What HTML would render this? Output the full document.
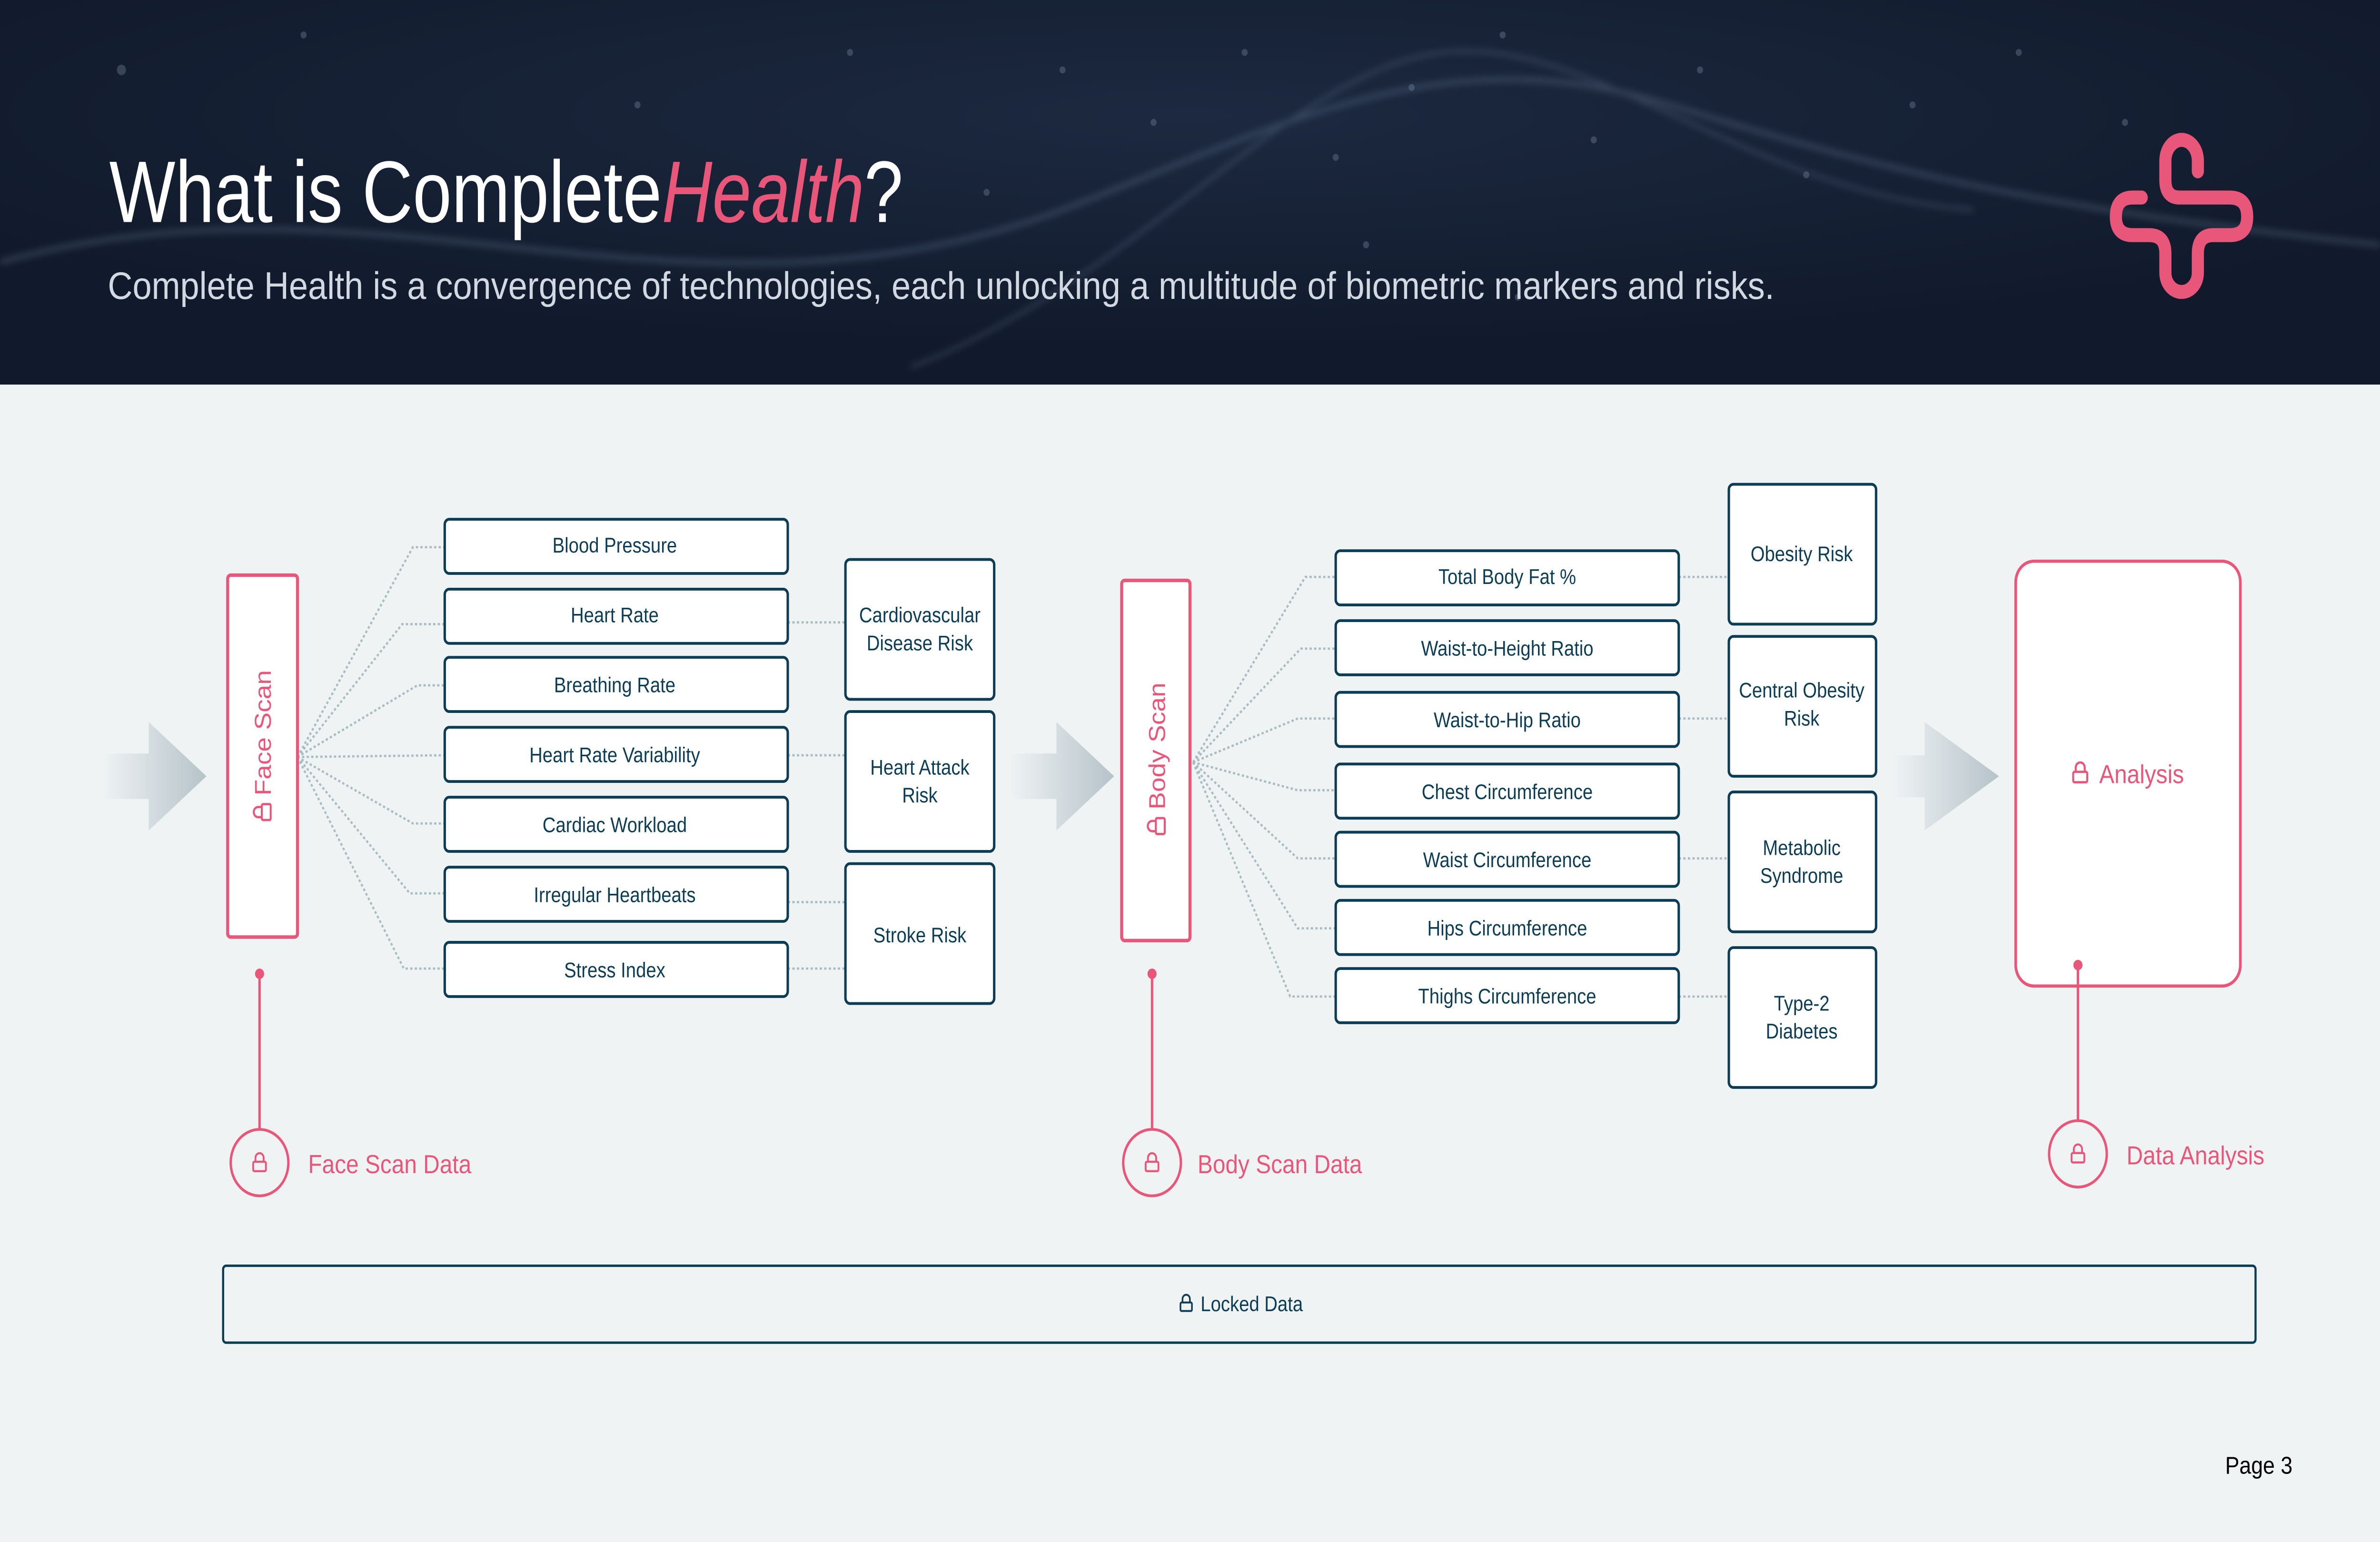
<!DOCTYPE html>
<html><head><meta charset="utf-8"><style>
html,body{margin:0;padding:0;background:#eff3f4;width:100%;height:100%;overflow:hidden;}
svg{display:block;width:100vw;height:100vh;}
</style></head><body>
<svg viewBox="0 0 1568 882" preserveAspectRatio="none" xmlns="http://www.w3.org/2000/svg" font-family="'Liberation Sans', sans-serif">
<defs>
<linearGradient id="ag" x1="0" x2="1" y1="0" y2="0">
<stop offset="0" stop-color="#eff3f4"/><stop offset="1" stop-color="#b6c3ca"/></linearGradient>
<radialGradient id="hg" cx="0.5" cy="0.3" r="0.6"><stop offset="0" stop-color="#1c2940"/><stop offset="1" stop-color="#111a2c"/></radialGradient>
<filter id="bl"><feGaussianBlur stdDeviation="2"/></filter>
<symbol id="lock" viewBox="0 0 10 12"><path d="M2.3,6 V3.8 A2.7,2.7 0 0 1 7.7,3.8 V6" fill="none" stroke="currentColor" stroke-width="1.2"/><rect x="0.8" y="6" width="8.4" height="5.4" rx="0.8" fill="none" stroke="currentColor" stroke-width="1.2"/></symbol>
</defs>
<rect x="0" y="0" width="1568" height="220" fill="url(#hg)"/>
<g filter="url(#bl)" opacity="0.35" fill="none" stroke="#6c7f99">
<path d="M0,150 C250,90 450,200 700,120 C850,70 950,20 1100,60 C1250,100 1350,120 1568,140" stroke-width="3"/>
<path d="M600,210 C750,160 850,40 950,30 C1050,20 1150,110 1300,120" stroke-width="2"/>
</g>
<g fill="#7d8ea6" opacity="0.35">
<circle cx="700" cy="40" r="2"/><circle cx="760" cy="70" r="2"/><circle cx="820" cy="30" r="2"/><circle cx="880" cy="90" r="2"/><circle cx="930" cy="50" r="2"/><circle cx="990" cy="20" r="2"/><circle cx="1050" cy="80" r="2"/><circle cx="1120" cy="40" r="2"/><circle cx="1190" cy="100" r="2"/><circle cx="1260" cy="60" r="2"/><circle cx="1330" cy="30" r="2"/><circle cx="1400" cy="70" r="2"/><circle cx="650" cy="110" r="2"/><circle cx="900" cy="140" r="2"/><circle cx="1000" cy="170" r="2"/><circle cx="80" cy="40" r="3"/><circle cx="200" cy="20" r="2"/><circle cx="420" cy="60" r="2"/><circle cx="560" cy="30" r="2"/>
</g>
<text x="72" y="127" font-size="50" fill="#ffffff" textLength="523" lengthAdjust="spacingAndGlyphs">What is Complete<tspan fill="#e8577a" font-style="italic">Health</tspan>?</text>
<text x="71" y="171" font-size="22" fill="#d3d9e2" textLength="1098" lengthAdjust="spacingAndGlyphs">Complete Health is a convergence of technologies, each unlocking a multitude of biometric markers and risks.</text>
<path d="M1448,98 L1448,92 A10.7,12 0 0 0 1426.6,92 L1426.6,103 Q1426.6,113 1436,113 L1469,113 Q1480.5,113 1480.5,124 Q1480.5,134.5 1469,134.5 L1458,134.5 Q1448,134.5 1448,145 L1448,156 A10.7,11 0 0 1 1426.6,156 L1426.6,145 Q1426.6,134.5 1416,134.5 L1405,134.5 Q1394,134.5 1394,124 Q1394,113 1405,113 L1411,113" fill="none" stroke="#e8577a" stroke-width="8" stroke-linecap="round" stroke-linejoin="round"/>

<rect x="0" y="220" width="1568" height="662" fill="#eff3f4"/>

<path d="M67,431 L98,431 L98,413 L136,444 L98,475 L98,457 L67,457 Z" fill="url(#ag)"/>
<path d="M665,431 L696,431 L696,413 L734,444 L696,475 L696,457 L665,457 Z" fill="url(#ag)"/>
<path d="M1247,432 L1268,432 L1268,413 L1317,444 L1268,475 L1268,456 L1247,456 Z" fill="url(#ag)"/>

<g fill="none" stroke="#a9bcc3" stroke-width="1.3" stroke-dasharray="1.5,1.5">
<path d="M196,433 L272,313 L293,313"/>
<path d="M196,433 L265,357 L293,357"/>
<path d="M196,433 L275,392 L293,392"/>
<path d="M196,433 L293,432"/>
<path d="M196,433 L272,471 L293,471"/>
<path d="M196,433 L270,511 L293,511"/>
<path d="M196,433 L266,554 L293,554"/>
<path d="M519,356 L557,356"/><path d="M519,432 L557,432"/><path d="M519,516 L557,516"/><path d="M519,554 L557,554"/>
<path d="M786,436 L860,330 L880,330"/>
<path d="M786,436 L857,371 L880,371"/>
<path d="M786,436 L855,411 L880,411"/>
<path d="M786,436 L855,452 L880,452"/>
<path d="M786,436 L855,491 L880,491"/>
<path d="M786,436 L855,531 L880,531"/>
<path d="M786,436 L850,570 L880,570"/>
<path d="M1106,330 L1139,330"/><path d="M1106,411 L1139,411"/><path d="M1106,491 L1139,491"/><path d="M1106,570 L1139,570"/>
</g>

<rect x="150" y="329" width="46" height="207" rx="2" fill="#fff" stroke="#e8577a" stroke-width="2"/>
<g transform="translate(173,432) rotate(-90)" color="#e8577a">
<use href="#lock" x="-38" y="-7" width="11" height="13"/>
<text x="-23" y="5.5" font-size="15" fill="#e8577a">Face Scan</text>
</g>
<line x1="171" y1="557" x2="171" y2="646" stroke="#e8577a" stroke-width="1.6"/>
<circle cx="171" cy="557" r="3" fill="#e8577a"/>
<circle cx="171" cy="665" r="19" fill="none" stroke="#e8577a" stroke-width="1.6"/>
<use href="#lock" x="166" y="658" width="10" height="13" color="#e8577a"/>
<text x="203" y="671" font-size="15" fill="#e8577a">Face Scan Data</text>

<g fill="#fff" stroke="#0d3c55" stroke-width="1.6">
<rect x="293" y="297" width="226" height="31" rx="3"/>
<rect x="293" y="337" width="226" height="31" rx="3"/>
<rect x="293" y="376" width="226" height="31" rx="3"/>
<rect x="293" y="416" width="226" height="31" rx="3"/>
<rect x="293" y="456" width="226" height="31" rx="3"/>
<rect x="293" y="496" width="226" height="31" rx="3"/>
<rect x="293" y="539" width="226" height="31" rx="3"/>
<rect x="557" y="320" width="98" height="80" rx="3"/>
<rect x="557" y="407" width="98" height="80" rx="3"/>
<rect x="557" y="494" width="98" height="80" rx="3"/>
<rect x="880" y="315" width="226" height="31" rx="3"/>
<rect x="880" y="355" width="226" height="31" rx="3"/>
<rect x="880" y="396" width="226" height="31" rx="3"/>
<rect x="880" y="437" width="226" height="31" rx="3"/>
<rect x="880" y="476" width="226" height="31" rx="3"/>
<rect x="880" y="515" width="226" height="31" rx="3"/>
<rect x="880" y="554" width="226" height="31" rx="3"/>
<rect x="1139" y="277" width="97" height="80" rx="3"/>
<rect x="1139" y="364" width="97" height="80" rx="3"/>
<rect x="1139" y="453" width="97" height="80" rx="3"/>
<rect x="1139" y="542" width="97" height="80" rx="3"/>
</g>
<g font-size="12" fill="#0d3c55" text-anchor="middle">
<text x="405" y="316">Blood Pressure</text>
<text x="405" y="356">Heart Rate</text>
<text x="405" y="396">Breathing Rate</text>
<text x="405" y="436">Heart Rate Variability</text>
<text x="405" y="476">Cardiac Workload</text>
<text x="405" y="516">Irregular Heartbeats</text>
<text x="405" y="559">Stress Index</text>
<text x="606" y="356">Cardiovascular</text><text x="606" y="372">Disease Risk</text>
<text x="606" y="443">Heart Attack</text><text x="606" y="459">Risk</text>
<text x="606" y="539">Stroke Risk</text>
<text x="993" y="334">Total Body Fat %</text>
<text x="993" y="375">Waist-to-Height Ratio</text>
<text x="993" y="416">Waist-to-Hip Ratio</text>
<text x="993" y="457">Chest Circumference</text>
<text x="993" y="496">Waist Circumference</text>
<text x="993" y="535">Hips Circumference</text>
<text x="993" y="574">Thighs Circumference</text>
<text x="1187" y="321">Obesity Risk</text>
<text x="1187" y="399">Central Obesity</text><text x="1187" y="415">Risk</text>
<text x="1187" y="489">Metabolic</text><text x="1187" y="505">Syndrome</text>
<text x="1187" y="578">Type-2</text><text x="1187" y="594">Diabetes</text>
</g>

<rect x="739" y="332" width="45" height="206" rx="2" fill="#fff" stroke="#e8577a" stroke-width="2"/>
<g transform="translate(762,434) rotate(-90)" color="#e8577a">
<use href="#lock" x="-44" y="-7" width="11" height="13"/>
<text x="-29" y="5.5" font-size="15" fill="#e8577a">Body Scan</text>
</g>
<line x1="759" y1="557" x2="759" y2="646" stroke="#e8577a" stroke-width="1.6"/>
<circle cx="759" cy="557" r="3" fill="#e8577a"/>
<circle cx="759" cy="665" r="19" fill="none" stroke="#e8577a" stroke-width="1.6"/>
<use href="#lock" x="754" y="658" width="10" height="13" color="#e8577a"/>
<text x="789" y="671" font-size="15" fill="#e8577a">Body Scan Data</text>

<rect x="1328" y="321" width="148" height="243" rx="12" fill="#fff" stroke="#e8577a" stroke-width="1.8"/>
<use href="#lock" x="1365" y="434" width="11" height="15" color="#e8577a"/>
<text x="1383" y="448" font-size="15" fill="#e8577a">Analysis</text>
<line x1="1369" y1="552" x2="1369" y2="641" stroke="#e8577a" stroke-width="1.6"/>
<circle cx="1369" cy="552" r="3" fill="#e8577a"/>
<circle cx="1369" cy="660" r="19" fill="none" stroke="#e8577a" stroke-width="1.6"/>
<use href="#lock" x="1364" y="653" width="10" height="13" color="#e8577a"/>
<text x="1401" y="666" font-size="15" fill="#e8577a">Data Analysis</text>

<rect x="147" y="724" width="1339" height="44" rx="2" fill="none" stroke="#0d3c55" stroke-width="1.4"/>
<use href="#lock" x="777" y="739" width="9" height="12" color="#0d3c55"/>
<text x="791" y="750" font-size="12" fill="#0d3c55">Locked Data</text>

<text x="1466" y="843" font-size="14" fill="#000">Page  3</text>
</svg>
</body></html>
